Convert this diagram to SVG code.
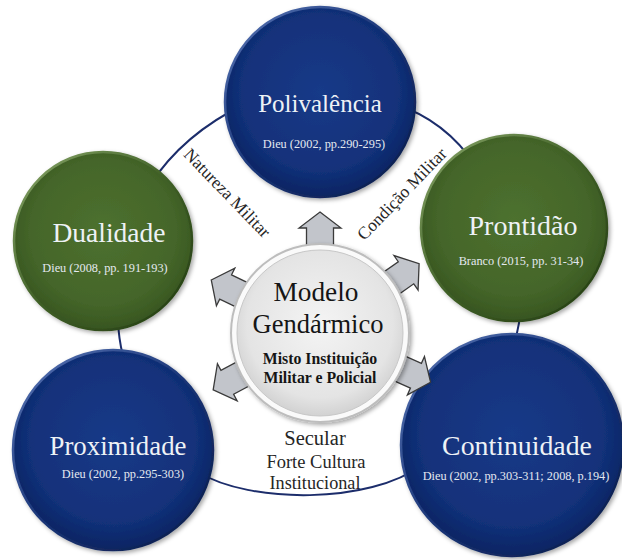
<svg xmlns="http://www.w3.org/2000/svg" width="622" height="560" viewBox="0 0 622 560">
<style>
.ring{fill:none;stroke:#1c2d6b;stroke-width:2}
.navy{fill:url(#gNavy);stroke:url(#rimNavy);stroke-width:2.5;filter:url(#sh)}
.green{fill:url(#gGreen);stroke:url(#rimGreen);stroke-width:2.5;filter:url(#sh)}
.title{font-family:"Liberation Serif","Times New Roman",serif;fill:#eef2f6;text-anchor:middle}
.cite{font-family:"Liberation Serif","Times New Roman",serif;fill:#e4e9f0;text-anchor:middle;font-size:12.3px}
.arrow{fill:#c2c5cb;stroke:#3a3a3a;stroke-width:1.3;stroke-linejoin:miter}
.dark{font-family:"Liberation Serif","Times New Roman",serif;fill:#151515;text-anchor:middle}
.lbl{font-family:"Liberation Serif","Times New Roman",serif;fill:#262626;text-anchor:middle}
</style>
<defs>
<radialGradient id="gNavy" cx="50%" cy="45%" r="55%">
<stop offset="0" stop-color="#173a88"/>
<stop offset="0.75" stop-color="#12317a"/>
<stop offset="1" stop-color="#0c2462"/>
</radialGradient>
<linearGradient id="rimNavy" x1="0" y1="0" x2="1" y2="1">
<stop offset="0" stop-color="#5a78b8"/>
<stop offset="0.5" stop-color="#1a3577"/>
<stop offset="1" stop-color="#0a1a45"/>
</linearGradient>
<radialGradient id="gGreen" cx="50%" cy="45%" r="55%">
<stop offset="0" stop-color="#4d712f"/>
<stop offset="0.75" stop-color="#446529"/>
<stop offset="1" stop-color="#375520"/>
</radialGradient>
<linearGradient id="rimGreen" x1="0" y1="0" x2="1" y2="1">
<stop offset="0" stop-color="#8aa86a"/>
<stop offset="0.5" stop-color="#3f5f26"/>
<stop offset="1" stop-color="#223a12"/>
</linearGradient>
<radialGradient id="gCenter" cx="50%" cy="45%" r="55%">
<stop offset="0" stop-color="#f4f4f4"/>
<stop offset="0.8" stop-color="#e4e4e4"/>
<stop offset="1" stop-color="#d2d2d2"/>
</radialGradient>
<filter id="sh" x="-10%" y="-10%" width="125%" height="125%">
<feDropShadow dx="2" dy="2" stdDeviation="2" flood-color="#000" flood-opacity="0.35"/>
</filter>
</defs>

<g id="connectors">
<path class="ring" d="M150,185 Q183,134 245,104"/>
<path class="ring" d="M395,104 Q445,120 476,166"/>
<path class="ring" d="M118,300 Q116,340 128,372"/>
<path class="ring" d="M521,300 Q521,322 513,348"/>
<path class="ring" d="M198,472 C250,504 370,504 422,465"/>
</g>

<g id="node-polivalencia">
<circle class="navy" cx="320" cy="102" r="95"/>
<text class="title" x="320" y="112" font-size="25">Polivalência</text>
<text class="cite" x="324" y="148">Dieu (2002, pp.290-295)</text>
</g>

<g id="node-dualidade">
<circle class="green" cx="103" cy="241" r="89"/>
<text class="title" x="109" y="242" font-size="27.5">Dualidade</text>
<text class="cite" x="105" y="272">Dieu (2008, pp. 191-193)</text>
</g>

<g id="node-prontidao">
<circle class="green" cx="514" cy="228" r="93"/>
<text class="title" x="523" y="235" font-size="28">Prontidão</text>
<text class="cite" x="521" y="265" font-size="12.8">Branco (2015, pp. 31-34)</text>
</g>

<g id="node-proximidade">
<circle class="navy" cx="113" cy="450" r="100"/>
<text class="title" x="118" y="455" font-size="26.8">Proximidade</text>
<text class="cite" x="123" y="478">Dieu (2002, pp.295-303)</text>
</g>

<g id="node-continuidade">
<circle class="navy" cx="512" cy="445" r="111"/>
<text class="title" x="517" y="455" font-size="27.8">Continuidade</text>
<text class="cite" x="516" y="480">Dieu (2002, pp.303-311; 2008, p.194)</text>
</g>

<g id="arrows">
<polygon class="arrow" transform="translate(320,333) rotate(0)" points="0,-121 21,-105 13.5,-105 13.5,-86 -13.5,-86 -13.5,-105 -21,-105"/>
<polygon class="arrow" transform="translate(320,333) rotate(55)" points="0,-121 21,-105 13.5,-105 13.5,-86 -13.5,-86 -13.5,-105 -21,-105"/>
<polygon class="arrow" transform="translate(320,333) rotate(114)" points="0,-121 21,-105 13.5,-105 13.5,-86 -13.5,-86 -13.5,-105 -21,-105"/>
<polygon class="arrow" transform="translate(320,333) rotate(-118)" points="0,-121 21,-105 13.5,-105 13.5,-86 -13.5,-86 -13.5,-105 -21,-105"/>
<polygon class="arrow" transform="translate(320,333) rotate(-64)" points="0,-121 21,-105 13.5,-105 13.5,-86 -13.5,-86 -13.5,-105 -21,-105"/>
</g>

<g id="node-modelo">
<circle cx="320" cy="333" r="90" fill="#bdbdbd" filter="url(#sh)"/>
<circle cx="320" cy="333" r="88" fill="#fafafa"/>
<circle cx="320" cy="333" r="83" fill="url(#gCenter)" stroke="#c8c8c8" stroke-width="1"/>
<text class="dark" x="316" y="301" font-size="27.3">Modelo</text>
<text class="dark" x="318" y="333" font-size="26.5">Gendármico</text>
<text class="dark" x="320" y="364" font-size="15.8" font-weight="bold">Misto Instituição</text>
<text class="dark" x="320" y="383" font-size="15.8" font-weight="bold">Militar e Policial</text>
</g>

<g id="labels">
<text class="lbl" x="223" y="197" font-size="17.5" transform="rotate(46 223 197)">Natureza Militar</text>
<text class="lbl" x="406" y="198" font-size="17.5" transform="rotate(-46 406 198)">Condição Militar</text>
<text class="lbl" x="315" y="445" font-size="20.5">Secular</text>
<text class="lbl" x="316" y="468" font-size="18.5">Forte Cultura</text>
<text class="lbl" x="315" y="489" font-size="18.2">Institucional</text>
</g>
</svg>
